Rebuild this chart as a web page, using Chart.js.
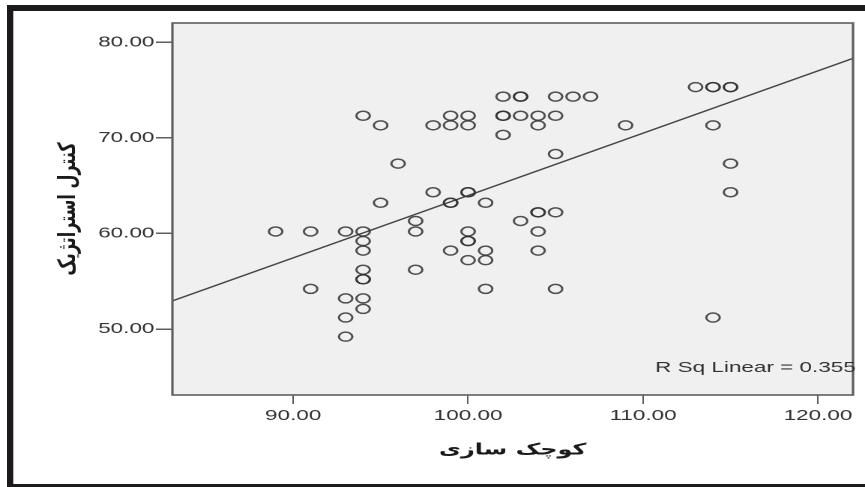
<!DOCTYPE html>
<html>
<head>
<meta charset="utf-8">
<script src="https://cdn.jsdelivr.net/npm/chart.js@4.4.1/dist/chart.umd.min.js"></script>
<style>
	body { margin: 0; background: #fff; }
	#wrap { position: relative; width: 865px; height: 487px; overflow: hidden; }
	#chart { position: absolute; left: 0; top: 0; }
	.band { position: absolute; background: #1c1a1b; }
	.inner { position: absolute; background: #b8b8b8; }
</style>
</head>
<body>
<div id="wrap">
	<!-- the source picture is stretched sideways, so the chart is drawn narrow and widened by css -->
	<canvas id="chart" width="577" height="487" style="width:865px;height:487px"></canvas>
	<div class="band" style="left:7px;top:5px;width:6px;height:482px"></div>
	<div class="band" style="left:7px;top:5px;width:858px;height:6px"></div>
	<div class="band" style="left:7px;top:484px;width:858px;height:3px"></div>
	<div class="inner" style="left:13px;top:11px;width:1px;height:473px"></div>
</div>
<script>
//______ data

var downsizing = [
	113, 114, 114, 115, 115,
	102, 103, 103, 105, 106, 107,
	94, 99, 100, 102, 102, 103, 104, 105,
	95, 98, 99, 100, 104, 109, 114,
	102,
	105,
	96, 115,
	98, 100, 100, 115,
	95, 99, 99, 101,
	104, 104, 105,
	97, 103,
	89, 91, 93, 94, 97, 100, 104,
	94, 100, 100,
	94, 99, 101, 104,
	100, 101,
	94, 97,
	94, 94,
	91, 101, 105,
	93, 94,
	94,
	93, 114,
	93
];

var strategicControl = [
	75.3, 75.3, 75.3, 75.3, 75.3,
	74.3, 74.3, 74.3, 74.3, 74.3, 74.3,
	72.3, 72.3, 72.3, 72.3, 72.3, 72.3, 72.3, 72.3,
	71.3, 71.3, 71.3, 71.3, 71.3, 71.3, 71.3,
	70.3,
	68.3,
	67.3, 67.3,
	64.3, 64.3, 64.3, 64.3,
	63.2, 63.2, 63.2, 63.2,
	62.2, 62.2, 62.2,
	61.3, 61.3,
	60.2, 60.2, 60.2, 60.2, 60.2, 60.2, 60.2,
	59.2, 59.2, 59.2,
	58.2, 58.2, 58.2, 58.2,
	57.2, 57.2,
	56.2, 56.2,
	55.2, 55.2,
	54.2, 54.2, 54.2,
	53.2, 53.2,
	52.1,
	51.2, 51.2,
	49.2
];

var xTicks = [90, 100, 110, 120];
var yTicks = [50, 60, 70, 80];
var xRange = [83.1, 122.0];
var yRange = [43.1, 82.0];

var fitSlope = 0.652;
var fitIntercept = -1.24;
var rSquared = 0.355;

var xTitle = 'کوچک سازی';
var yTitle = 'کنترل استراتژیک';

//______ helpers

function fitPoint(x) {
	return { x: x, y: fitIntercept + fitSlope * x };
}

function setTicks(values) {
	return function(axis) {
		axis.ticks = values.map(v => ({ value: v }));
	};
}

var tickFont = { family: "'Liberation Sans', Arial, sans-serif", size: 15 };
var titleFont = { family: "'DejaVu Sans', sans-serif", size: 16, weight: 'bold' };

var plotFrame = {
	id: 'plotFrame',
	beforeDraw: function(chart) {
		var a = chart.chartArea;
		var ctx = chart.ctx;
		ctx.save();
		ctx.fillStyle = '#f0f0f0';
		ctx.fillRect(a.left, a.top, a.right - a.left, a.bottom - a.top);
		ctx.restore();
	},
	afterDraw: function(chart) {
		var a = chart.chartArea;
		var ctx = chart.ctx;
		ctx.save();
		ctx.strokeStyle = '#5e5e5e';
		ctx.lineWidth = 1.6;
		ctx.strokeRect(a.left, a.top, a.right - a.left, a.bottom - a.top);

		ctx.fillStyle = '#333';
		ctx.font = "15px 'Liberation Sans', Arial, sans-serif";
		ctx.textAlign = 'left';
		ctx.textBaseline = 'alphabetic';
		ctx.fillText('R Sq Linear = ' + rSquared.toFixed(3), 437, 372);
		ctx.restore();
	}
};

var points = downsizing.map((x, i) => ({ x: x, y: strategicControl[i] }));

new Chart(document.getElementById('chart'), {
	type: 'scatter',
	data: {
		datasets: [
			{
				data: points,
				pointRadius: 4.5,
				pointBorderWidth: 1.5,
				pointBorderColor: 'rgba(50,50,50,0.85)',
				pointBackgroundColor: 'rgba(0,0,0,0)'
			},
			{
				type: 'line',
				data: [fitPoint(xRange[0]), fitPoint(xRange[1])],
				borderColor: '#444',
				borderWidth: 1.3,
				pointRadius: 0,
				fill: false
			}
		]
	},
	options: {
		responsive: false,
		animation: false,
		devicePixelRatio: 2,
		layout: { padding: { top: 23, right: 8, left: 0, bottom: 0 } },
		plugins: {
			legend: { display: false },
			tooltip: { enabled: false }
		},
		scales: {
			x: {
				type: 'linear',
				min: xRange[0],
				max: xRange[1],
				afterBuildTicks: setTicks(xTicks),
				afterFit: function(axis) { axis.height = 92; },
				border: { display: false },
				grid: { drawOnChartArea: false, tickLength: 9, color: '#5e5e5e', lineWidth: 1 },
				ticks: {
					font: tickFont,
					color: '#333',
					padding: 3,
					callback: v => v.toFixed(2)
				},
				title: {
					display: true,
					text: xTitle,
					font: titleFont,
					color: '#1a1a1a',
					padding: { top: 0, bottom: 27 }
				}
			},
			y: {
				min: yRange[0],
				max: yRange[1],
				afterBuildTicks: setTicks(yTicks),
				afterFit: function(axis) { axis.width = 115; },
				border: { display: false },
				grid: { drawOnChartArea: false, tickLength: 11, color: '#5e5e5e', lineWidth: 1.5 },
				ticks: {
					font: tickFont,
					color: '#333',
					padding: 1,
					callback: v => v.toFixed(2)
				},
				title: {
					display: true,
					text: yTitle,
					font: titleFont,
					color: '#1a1a1a',
					padding: { top: 36, bottom: 0 }
				}
			}
		}
	},
	plugins: [plotFrame]
});
</script>
</body>
</html>
